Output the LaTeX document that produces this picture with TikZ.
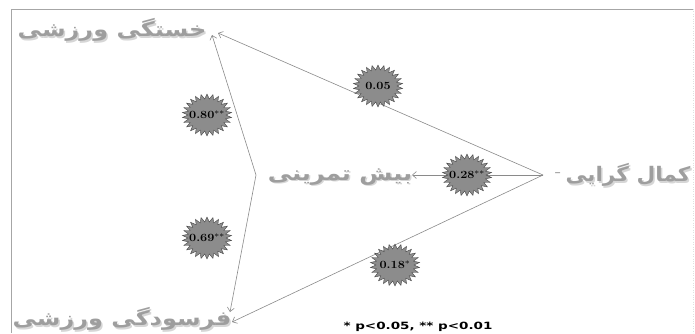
\documentclass[tikz,border=0pt]{standalone}
\usepackage{fontspec}
\usetikzlibrary{shapes.geometric,arrows.meta,positioning}
\newfontfamily\arabicfont[Script=Arabic]{DejaVu Sans}
\newfontfamily\notefont{DejaVu Sans}
\TeXXeTstate=1
\definecolor{txtgray}{HTML}{9E9E9E}
\definecolor{shadowgray}{HTML}{D6D6D6}
\definecolor{stargray}{HTML}{8C8C8C}
\definecolor{linegray}{HTML}{8A8A8A}

\tikzset{
  wide/.style={xscale=#1, transform shape},
  vartext/.style={font=\arabicfont\bfseries\fontsize{20}{24}\selectfont, text=txtgray, inner sep=0pt, wide=1.2},
  varshadow/.style={vartext, text=shadowgray},
  coef/.style={star, star points=26, star point ratio=1.3, fill=stargray,
    draw=gray!55!black, line width=0.4pt, minimum size=42pt, inner sep=0pt, wide=1.18},
  coeftext/.style={font=\bfseries\fontsize{11}{12}\selectfont, inner sep=0pt, wide=1.15},
  effect/.style={draw=linegray, line width=0.6pt, -{Straight Barb[length=4pt,width=7pt]}}
}
% shadowed variable name
\newcommand\varnode[4][]{%
  \node[varshadow,#1] at ([shift={(1.5,1.5)}]#3) {#4};
  \node[vartext,#1] (#2) at (#3) {#4};}

\begin{document}
\begin{tikzpicture}[x=1pt,y=-1pt]
    \useasboundingbox (0,0) rectangle (695,333);
    \draw[gray!70, line width=0.8pt] (11,333) -- (11,9) -- (693,9);
    \draw[gray!25, dotted] (693,9) -- (693,333);

    % variables
    \varnode[wide=0.9]{kamal}{628,175}{\beginR کمال گرایی\endR}
    \varnode{bish}{340,177}{\beginR بیش تمرینی\endR}
    \varnode{khastegi}{112,30}{\beginR خستگی ورزشی\endR}
    \varnode{farsudegi}{122,319}{\beginR فرسودگی ورزشی\endR}
    \node[text=linegray, font=\fontsize{20}{22}\selectfont, inner sep=0pt, left = 4pt of kamal] (dash) {-};

    \coordinate (src) at (543,175);
    \coordinate (bsrc) at (256,175);
    \coordinate (kh-a) at (218,33);
    \coordinate (kh-b) at (212,35);
    \coordinate (fa-a) at (232,322);
    \coordinate (fa-b) at (230,312);
    \coordinate (bi-a) at (412,175);

    \draw[effect] (src) -- (kh-a);
    \draw[effect] (src) -- (fa-a);
    \draw[effect] (src) -- (bi-a);
    \draw[effect] (bsrc) -- (kh-b);
    \draw[effect] (bsrc) -- (fa-b);

    % coefficients
    \node[coef] (c05) at (378,86) {};
    \node[coeftext] at (c05) {0.05};
    \node[coef] (c80) at (207,115) {};
    \node[coeftext] at (c80) {0.80$^{**}$};
    \node[coef] (c69) at (207,238) {};
    \node[coeftext] at (c69) {0.69$^{**}$};
    \node[coef] (c28) at (467,175) {};
    \node[coeftext] at (c28) {0.28$^{**}$};
    \node[coef] (c18) at (395,265) {};
    \node[coeftext] at (c18) {0.18$^{*}$};

    \node[font=\notefont\bfseries\fontsize{10}{11}\selectfont, inner sep=0pt, wide=1.35] (note) at (418,327) {* p<0.05, ** p<0.01};
\end{tikzpicture}
\end{document}
